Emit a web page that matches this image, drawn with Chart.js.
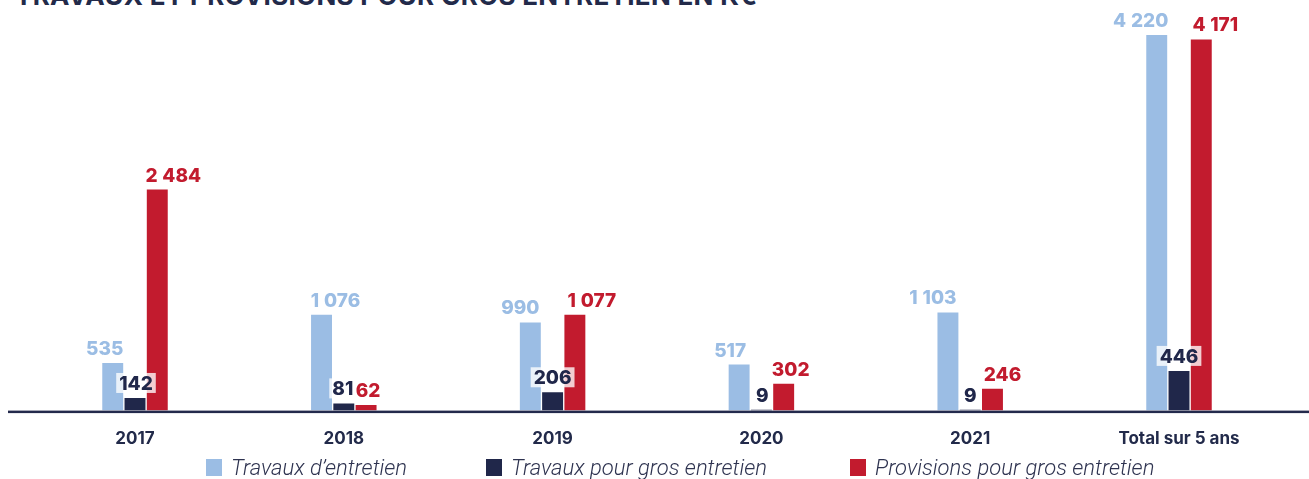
<!DOCTYPE html>
<html>
<head>
<meta charset="utf-8">
<script src="https://cdn.jsdelivr.net/npm/chart.js@4.4.1/dist/chart.umd.min.js"></script>
<style>
  html, body { margin: 0; padding: 0; background: #fff; overflow: hidden; }
  #wrap { position: relative; width: 1309px; height: 479px; overflow: hidden; }
  #title { position: absolute; left: 15px; top: -17px; margin: 0; font: 700 26px Inter, sans-serif; line-height: 26px; color: #222a4a; white-space: nowrap; letter-spacing: 0.3px; }
  canvas { position: absolute; left: 0; top: 0; }
  .leg { position: absolute; top: 459px; display: flex; align-items: center; font: italic 300 22px Roboto, sans-serif; color: #2e3350; line-height: 17px; white-space: nowrap; }
  .leg span.box { display: inline-block; width: 16px; height: 17px; margin-right: 9px; }
</style>
</head>
<body>
<div id="wrap">
  <div id="title">TRAVAUX ET PROVISIONS POUR GROS ENTRETIEN EN K€</div>
  <canvas id="c" width="1309" height="479"></canvas>
  <div id="legend"></div>
</div>
<script>
const categories = ['2017', '2018', '2019', '2020', '2021', 'Total sur 5 ans'];
const seriesNames = ['Travaux d\u2019entretien', 'Travaux pour gros entretien', 'Provisions pour gros entretien'];
const travauxEntretien = [535, 1076, 990, 517, 1103, 4220];
const travauxGros = [142, 81, 206, 9, 9, 446];
const provisionsGros = [2484, 62, 1077, 302, 246, 4171];
const colors = ['#9bbde4', '#20274a', '#c21b2e'];
const legendLeft = [206, 486, 850];
// horizontal nudges of the value labels (px), as placed in the original
const labelNudge = [
  [-8, 14, -10, -9, -15, -16],
  [1, -1, 0, 1, 0, 0],
  [16, 2, 17, 7, 10, 14]
];

const legendEl = document.getElementById('legend');
seriesNames.forEach((n, i) => {
  const d = document.createElement('div');
  d.className = 'leg';
  d.style.left = legendLeft[i] + 'px';
  d.innerHTML = '<span class="box" style="background:' + colors[i] + '"></span>' + n;
  legendEl.appendChild(d);
});

function fmt(v) {
  return String(v).replace(/\B(?=(\d{3})+(?!\d))/g, '\u2005');
}

const labelPlugin = {
  id: 'valueLabels',
  afterDatasetsDraw(chart) {
    const ctx = chart.ctx;
    const yScale = chart.scales.y;
    const y0 = yScale.getPixelForValue(0);
    ctx.save();
    ctx.fillStyle = '#232a4c';
    ctx.fillRect(8, y0, 1309 - 8, 2.5);
    ctx.font = '800 19px Inter, sans-serif';
    ctx.textAlign = 'center';
    ctx.textBaseline = 'alphabetic';
    chart.data.datasets.forEach((ds, di) => {
      const meta = chart.getDatasetMeta(di);
      meta.data.forEach((el, i) => {
        const txt = fmt(ds.data[i]);
        const x = el.x + labelNudge[di][i];
        const y = el.y - 8;
        if (di === 1) {
          const w = ctx.measureText(txt).width;
          ctx.fillStyle = 'rgba(255,255,255,0.78)';
          ctx.fillRect(x - w / 2 - 3, y - 17, w + 6, 20);
        }
        ctx.fillStyle = colors[di];
        ctx.fillText(txt, x, y);
      });
    });
    ctx.restore();
  }
};

new Chart(document.getElementById('c'), {
  type: 'bar',
  data: {
    labels: categories,
    datasets: [
      { label: seriesNames[0], data: travauxEntretien, backgroundColor: colors[0] },
      { label: seriesNames[1], data: travauxGros, backgroundColor: colors[1] },
      { label: seriesNames[2], data: provisionsGros, backgroundColor: colors[2] }
    ]
  },
  options: {
    responsive: false,
    animation: false,
    layout: { padding: { left: 30.6, right: 25.6, top: 0, bottom: 20 } },
    datasets: { bar: { categoryPercentage: 0.32, barPercentage: 0.94 } },
    plugins: { legend: { display: false }, tooltip: { enabled: false } },
    scales: {
      x: {
        grid: { display: false },
        border: { display: false },
        ticks: { color: '#222a4a', font: { family: 'Inter', weight: '700', size: 17 }, padding: 10, maxRotation: 0, autoSkip: false }
      },
      y: { display: false, min: 0, max: 4614 }
    }
  },
  plugins: [labelPlugin]
});
</script>
</body>
</html>
